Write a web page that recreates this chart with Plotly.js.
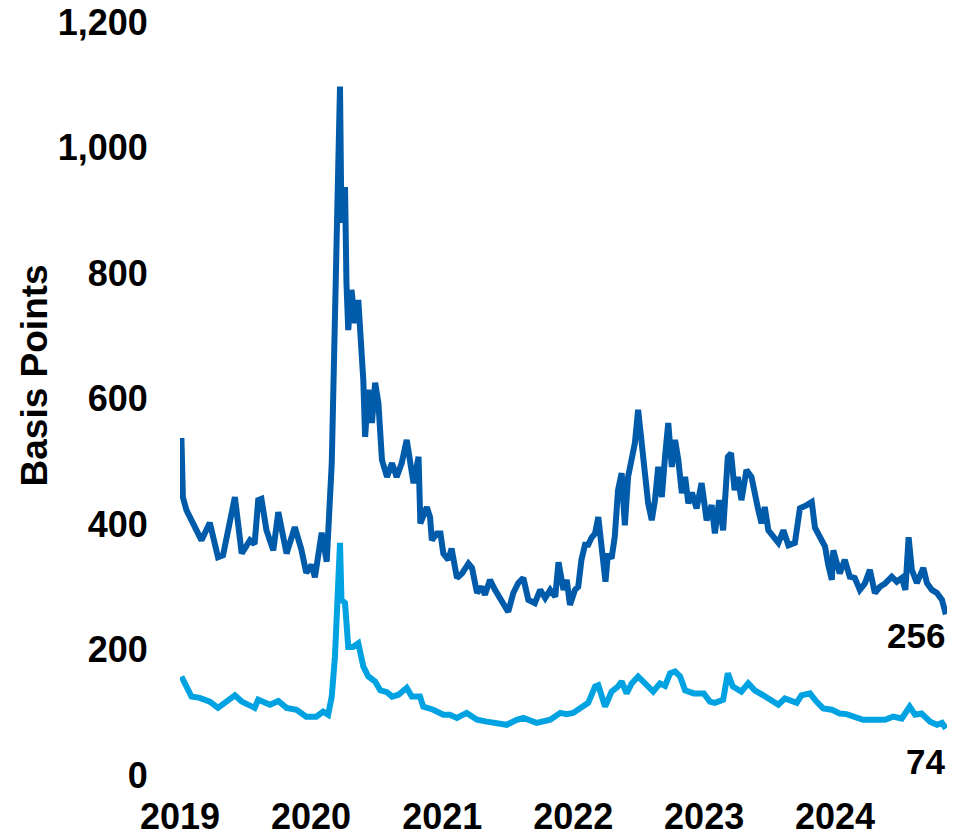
<!DOCTYPE html>
<html>
<head>
<meta charset="utf-8">
<script src="https://cdn.plot.ly/plotly-3.0.1.min.js"></script>
<style>html,body{margin:0;padding:0;background:#fff;}#chart{width:968px;height:838px;}</style>
</head>
<body>
<div id="chart"></div>
<script>
const hyDates = ['2019-01-05','2019-01-09','2019-01-19','2019-02-07','2019-03-02','2019-03-25','2019-04-17','2019-05-01','2019-05-15','2019-06-03','2019-06-22','2019-07-15','2019-07-28','2019-08-07','2019-08-16','2019-08-30','2019-09-18','2019-10-02','2019-10-25','2019-11-17','2019-12-05','2019-12-19','2020-01-03','2020-01-12','2020-01-31','2020-02-14','2020-02-28','2020-03-04','2020-03-22','2020-03-26','2020-04-05','2020-04-09','2020-04-14','2020-04-23','2020-05-03','2020-05-12','2020-05-22','2020-05-26','2020-05-31','2020-06-09','2020-06-19','2020-06-28','2020-07-07','2020-07-17','2020-07-31','2020-08-14','2020-08-27','2020-09-10','2020-09-24','2020-10-13','2020-10-27','2020-11-01','2020-11-19','2020-11-28','2020-12-03','2020-12-17','2020-12-27','2021-01-04','2021-01-18','2021-01-27','2021-02-11','2021-02-25','2021-03-15','2021-03-25','2021-04-08','2021-04-21','2021-04-30','2021-05-14','2021-05-28','2021-06-16','2021-07-04','2021-07-18','2021-08-01','2021-08-15','2021-08-29','2021-09-16','2021-10-01','2021-10-15','2021-10-29','2021-11-12','2021-11-21','2021-12-05','2021-12-14','2021-12-23','2022-01-06','2022-01-15','2022-01-24','2022-02-03','2022-02-12','2022-02-21','2022-03-03','2022-03-12','2022-03-21','2022-04-01','2022-04-08','2022-04-18','2022-04-27','2022-05-06','2022-05-16','2022-05-25','2022-06-03','2022-06-13','2022-06-22','2022-07-01','2022-07-11','2022-07-20','2022-07-29','2022-08-08','2022-08-17','2022-08-26','2022-09-05','2022-09-14','2022-09-23','2022-10-03','2022-10-12','2022-10-21','2022-10-31','2022-11-09','2022-11-18','2022-11-28','2022-12-11','2022-12-25','2023-01-08','2023-01-22','2023-01-31','2023-02-12','2023-02-23','2023-03-08','2023-03-17','2023-03-27','2023-04-05','2023-04-15','2023-04-29','2023-05-13','2023-05-22','2023-06-01','2023-06-10','2023-06-19','2023-06-29','2023-07-13','2023-07-27','2023-08-10','2023-08-24','2023-09-11','2023-09-25','2023-10-14','2023-10-28','2023-11-06','2023-11-20','2023-12-04','2023-12-13','2023-12-23','2023-12-27','2024-01-05','2024-01-14','2024-01-28','2024-02-11','2024-02-25','2024-03-10','2024-03-24','2024-04-07','2024-04-21','2024-05-05','2024-05-19','2024-06-07','2024-06-21','2024-07-05','2024-07-15','2024-07-24','2024-08-02','2024-08-16','2024-09-03','2024-09-13','2024-09-27','2024-10-11','2024-10-25','2024-11-05'];
const hyValues = [537,443,422,402,374,402,347,350,395,443,353,374,368,438,440,390,358,419,353,395,360,322,335,315,386,340,497,640,1097,880,937,784,709,773,720,757,677,629,539,614,561,625,593,502,475,497,475,497,534,465,507,401,427,411,374,385,385,353,343,361,314,321,337,330,290,300,287,311,295,279,260,290,306,314,279,274,295,282,295,284,339,295,311,271,295,300,343,367,367,378,385,411,364,308,353,345,380,454,481,398,475,502,529,582,534,481,433,406,438,491,443,507,561,491,534,502,449,475,433,450,425,465,406,430,385,438,390,507,513,454,475,438,486,475,443,422,401,427,390,379,370,390,366,370,425,430,435,394,379,364,335,311,358,337,321,343,316,314,295,305,327,290,300,305,316,308,314,295,379,327,306,330,306,295,290,279,256];

const igDates = ['2019-01-05','2019-01-19','2019-02-02','2019-02-25','2019-03-25','2019-04-17','2019-05-06','2019-06-03','2019-06-22','2019-07-15','2019-07-28','2019-08-07','2019-09-09','2019-10-02','2019-10-25','2019-11-22','2019-12-19','2020-01-16','2020-02-04','2020-02-18','2020-02-28','2020-03-08','2020-03-17','2020-03-22','2020-03-26','2020-04-05','2020-04-14','2020-04-27','2020-05-12','2020-05-26','2020-06-09','2020-06-28','2020-07-12','2020-07-31','2020-08-14','2020-09-01','2020-09-24','2020-10-08','2020-10-31','2020-11-09','2020-12-07','2021-01-04','2021-01-22','2021-02-11','2021-03-10','2021-04-08','2021-05-05','2021-06-02','2021-06-30','2021-07-28','2021-08-15','2021-09-21','2021-10-29','2021-11-26','2021-12-14','2022-01-01','2022-01-29','2022-02-12','2022-03-03','2022-03-12','2022-03-31','2022-04-18','2022-05-06','2022-05-16','2022-05-30','2022-06-13','2022-07-01','2022-07-20','2022-08-12','2022-08-31','2022-09-14','2022-09-28','2022-10-12','2022-10-26','2022-11-09','2022-12-03','2022-12-31','2023-01-17','2023-01-31','2023-02-23','2023-03-08','2023-03-22','2023-04-15','2023-05-04','2023-05-22','2023-06-15','2023-07-03','2023-07-27','2023-08-14','2023-08-28','2023-09-16','2023-09-29','2023-10-23','2023-11-10','2023-11-29','2023-12-23','2024-01-14','2024-02-02','2024-02-25','2024-03-19','2024-04-16','2024-05-19','2024-06-11','2024-07-05','2024-07-27','2024-08-11','2024-08-29','2024-09-22','2024-10-11','2024-10-25','2024-11-05'];
const igValues = [157,143,125,123,117,107,115,127,117,112,107,120,112,118,107,104,93,93,101,96,125,189,311,370,279,274,204,204,210,173,157,149,135,132,125,128,139,125,125,109,104,96,96,91,99,88,85,83,80,88,91,83,88,99,97,99,109,115,141,143,109,133,141,149,130,146,157,146,133,146,142,162,165,157,135,130,130,117,115,120,162,141,133,146,135,127,120,112,122,120,115,127,130,117,106,104,98,97,93,88,88,88,93,90,109,96,98,85,80,83,74];

const yearTickVals = ['2019-01-01','2020-01-01','2021-01-01','2022-01-01','2023-01-01','2024-01-01'];
const yearTickText = ['2019','2020','2021','2022','2023','2024'];
const yTickVals = [0,200,400,600,800,1000,1200];
const yTitle = 'Basis Points';

const FONT = 'Liberation Sans, Arial, Helvetica, sans-serif';
const darkBlue = '#005BAA';
const lightBlue = '#00A2E1';

const traces = [
  {x: hyDates, y: hyValues, type: 'scatter', mode: 'lines', line: {color: darkBlue, width: 6}, hoverinfo: 'skip'},
  {x: igDates, y: igValues, type: 'scatter', mode: 'lines', line: {color: lightBlue, width: 6}, hoverinfo: 'skip'}
];

const layout = {
  width: 968, height: 838,
  margin: {l: 180, r: 21, t: 22, b: 63},
  paper_bgcolor: '#fff', plot_bgcolor: '#fff',
  showlegend: false,
  font: {family: FONT, color: '#000', weight: 700},
  xaxis: {
    type: 'date', range: ['2019-01-01', '2024-11-08'],
    tickmode: 'array', tickvals: yearTickVals, ticktext: yearTickText,
    showgrid: false, zeroline: false, showline: false,
    ticks: 'outside', ticklen: 10, tickcolor: 'rgba(0,0,0,0)',
    tickfont: {family: FONT, size: 36, color: '#000', weight: 700}
  },
  yaxis: {
    range: [0, 1200], tickmode: 'array', tickvals: yTickVals, tickformat: ',d',
    showgrid: false, zeroline: false, showline: false,
    ticks: 'outside', ticklen: 24, tickcolor: 'rgba(0,0,0,0)',
    tickfont: {family: FONT, size: 36, color: '#000', weight: 700}
  },
  annotations: [
    {xref: 'paper', x: -0.19, xanchor: 'center', yref: 'paper', y: 0.531, yanchor: 'middle',
     text: yTitle, textangle: -90, showarrow: false,
     font: {family: FONT, size: 37, color: '#000', weight: 700}},
    {xref: 'paper', x: 1, xanchor: 'right', yref: 'y', y: 223, yanchor: 'middle',
     text: String(hyValues[hyValues.length - 1]), showarrow: false,
     font: {family: FONT, size: 35, color: '#000', weight: 700}},
    {xref: 'paper', x: 1, xanchor: 'right', yref: 'y', y: 21, yanchor: 'middle',
     text: String(igValues[igValues.length - 1]), showarrow: false,
     font: {family: FONT, size: 35, color: '#000', weight: 700}}
  ]
};

Plotly.newPlot('chart', traces, layout, {displayModeBar: false, staticPlot: true});
</script>
</body>
</html>
